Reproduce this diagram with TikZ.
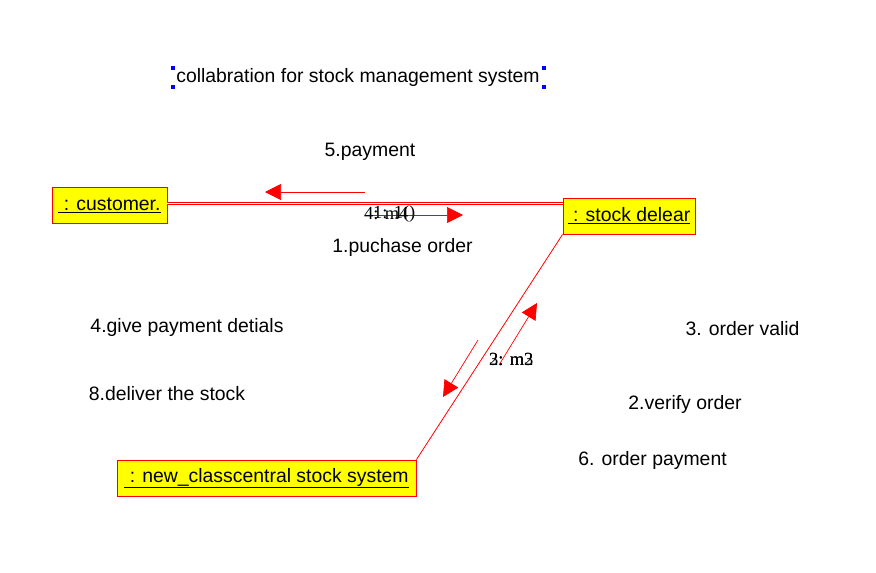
\documentclass[tikz,border=0pt]{standalone}
\usepackage{fontspec}
\setmainfont{Liberation Sans}
\newfontfamily\serifmsg{Liberation Serif}
\usetikzlibrary{arrows.meta,calc}
\definecolor{boxyellow}{RGB}{255,255,0}
\begin{document}
\begin{tikzpicture}[x=1pt,y=-1pt,
  obj/.style={draw=red,line width=0.9pt,fill=boxyellow,inner sep=0pt,minimum height=36pt,font=\fontsize{19.4}{21}\selectfont},
  lbl/.style={font=\fontsize{19.4}{21}\selectfont,inner sep=0pt},
  msglbl/.style={font=\serifmsg\fontsize{18.5}{20}\selectfont,inner sep=0pt,anchor=west},
  msg/.style={draw=red,line width=0.7pt,-{Triangle[length=16pt,width=16pt]}},
  link/.style={draw=red,line width=0.8pt},
  handle/.style={fill=blue,minimum size=4pt,inner sep=0pt}]
\useasboundingbox (0,0) rectangle (876,573);
% objects
\node[obj,minimum width=115pt] (cust) at (109.5,205.5) {\underline{\ : customer.}};
\node[obj,minimum width=132pt] (dealer) at (629,216) {\underline{\ : stock delear}};
\node[obj,minimum width=299pt] (sys) at (266.5,478) {\underline{\ : new\_classcentral stock system}};
% links
\draw[link,double=white,double distance=1.6pt] ([yshift=2pt]cust.east) -- ([yshift=2pt]cust.east -| dealer.west);
\draw[link] (dealer.south west) -- (sys.north east);
% message arrows
\coordinate (m5s) at (365,192); \coordinate (m5e) at (265,192);
\coordinate (m1s) at (365,215); \coordinate (m1e) at (463,215);
\coordinate (m3s) at (478,340); \coordinate (m3e) at (443,397);
\coordinate (m2s) at (499,365); \coordinate (m2e) at (537,303);
\draw[msg] (m5s) -- (m5e);
\draw[msg] (m1s) -- (m1e);
\draw[msg] (m3s) -- (m3e);
\draw[msg] (m2s) -- (m2e);
\node[msglbl] (l4) at (364,214) {4: m4};
\node[msglbl] (l1) at (373,214) {1: 1()};
\node[msglbl] (l3) at (489,360) {3: m3};
\node[msglbl] (l2) at (489,360) {2: m2};
% title
\node[lbl] (title) at (358,77) {collabration for stock management system};
\node[handle] (h1) at (173,68) {};
\node[handle] (h2) at (544,68) {};
\node[handle] (h3) at (173,87) {};
\node[handle] (h4) at (544,87) {};
% free labels
\node[lbl] (t5) at (370,152) {5.payment};
\node[lbl] (t1) at (402.5,247) {1.puchase order};
\node[lbl] (t4) at (187,327) {4.give payment detials};
\node[lbl] (t8) at (167,394) {8.deliver the stock};
\node[lbl] (t3) at (742.5,329) {3. order valid};
\node[lbl] (t2) at (685,404) {2.verify order};
\node[lbl] (t6) at (652.5,460) {6. order payment};
\end{tikzpicture}
\end{document}
